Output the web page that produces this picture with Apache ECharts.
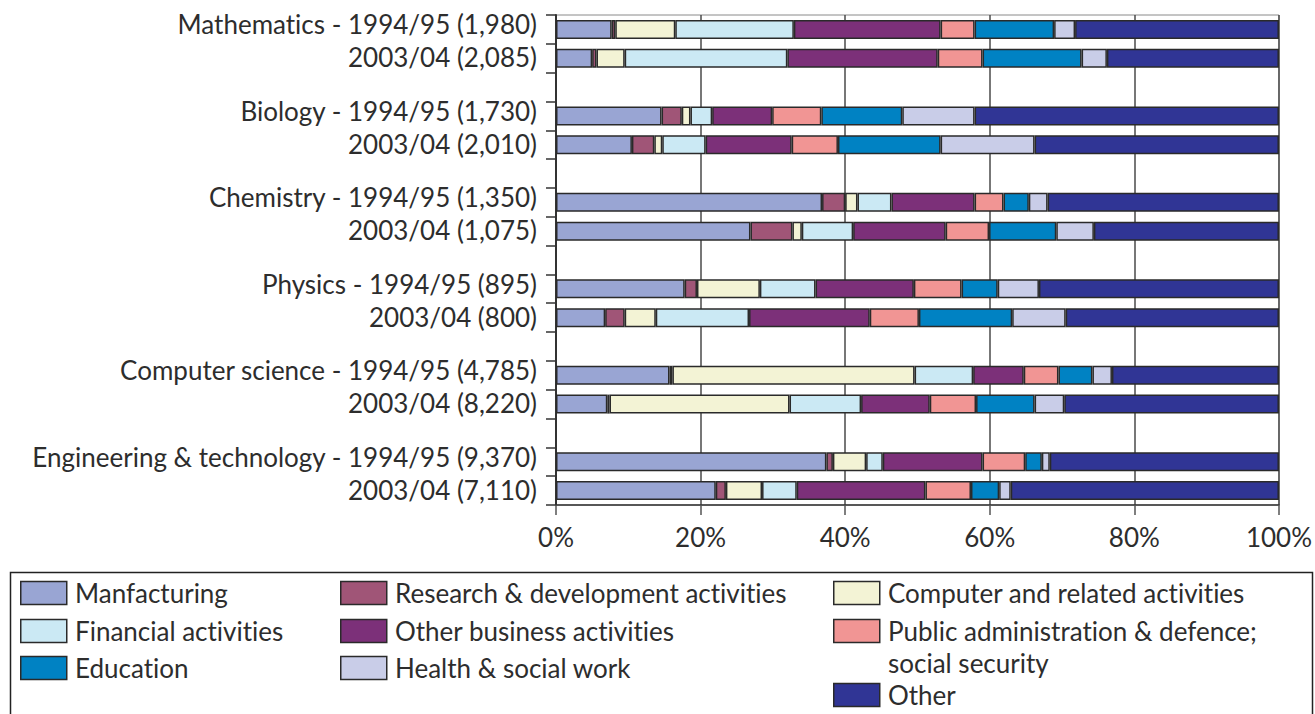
<!DOCTYPE html>
<html>
<head>
<meta charset="utf-8">
<script src="https://cdn.jsdelivr.net/npm/echarts@6/dist/echarts.min.js"></script>
<style>
  html, body { margin: 0; padding: 0; background: #fff; }
  #chart { width: 1315px; height: 714px; }
  /* Lato joins "ti" by default, the original does not */
  #chart svg text { font-variant-ligatures: none !important; }
</style>
</head>
<body>
<div id="chart"></div>
<script>
// bars, top to bottom; '' marks the blank row between subjects
var barLabels = [
  'Mathematics - 1994/95 (1,980)', '2003/04 (2,085)', '',
  'Biology - 1994/95 (1,730)', '2003/04 (2,010)', '',
  'Chemistry - 1994/95 (1,350)', '2003/04 (1,075)', '',
  'Physics - 1994/95 (895)', '2003/04 (800)', '',
  'Computer science - 1994/95 (4,785)', '2003/04 (8,220)', '',
  'Engineering & technology - 1994/95 (9,370)', '2003/04 (7,110)'
];

// share of graduates (%) per sector, one value per bar (12 bars)
var manufacturing   = [7.7, 5.0, 14.6, 10.5, 36.8, 26.9, 17.8, 6.8, 15.7, 7.1, 37.4, 22.1];
var researchDev     = [0.5, 0.6, 2.8, 3.1, 3.2, 5.8, 1.7, 2.7, 0.4, 0.3, 0.9, 1.4];
var computerRelated = [8.3, 3.9, 1.2, 1.1, 1.7, 1.3, 8.7, 4.3, 33.5, 24.9, 4.6, 5.0];
var financial       = [16.4, 22.5, 3.0, 6.0, 4.7, 7.1, 7.7, 12.9, 8.1, 9.9, 2.3, 4.8];
var otherBusiness   = [20.3, 20.8, 8.3, 11.9, 11.5, 12.8, 13.6, 16.7, 7.0, 9.5, 13.8, 17.8];
var publicAdmin     = [4.7, 6.2, 6.8, 6.4, 4.0, 6.0, 6.6, 6.8, 4.8, 6.4, 5.9, 6.3];
var education       = [11.0, 13.7, 11.2, 14.2, 3.5, 9.3, 5.0, 12.9, 4.7, 8.1, 2.3, 3.9];
var health          = [2.9, 3.5, 10.0, 13.0, 2.6, 5.2, 5.7, 7.4, 2.7, 4.1, 1.1, 1.6];
var other           = [28.2, 23.8, 42.1, 33.8, 32.0, 25.6, 33.2, 29.5, 23.1, 29.7, 31.7, 37.1];

var xTicks = [0, 20, 40, 60, 80, 100];

var sectors = [
  { name: 'Manfacturing', values: manufacturing, color: '#99a5d3' },
  { name: 'Research & development activities', values: researchDev, color: '#a05577' },
  { name: 'Computer and related activities', values: computerRelated, color: '#f3f3d5' },
  { name: 'Financial activities', values: financial, color: '#cbe9f4' },
  { name: 'Other business activities', values: otherBusiness, color: '#7c3079' },
  { name: 'Public administration & defence; social security', values: publicAdmin, color: '#f19594' },
  { name: 'Education', values: education, color: '#0082c3' },
  { name: 'Health & social work', values: health, color: '#c9cde8' },
  { name: 'Other', values: other, color: '#303595' }
];

var FONT = 'Lato';
var TEXT = '#2d2d2d';
var FS = 26;

// put the values on the bar rows, '-' on the blank rows
function withGaps(values) {
  var out = [];
  var k = 0;
  barLabels.forEach(function (lab) {
    out.push(lab === '' ? '-' : values[k++]);
  });
  return out;
}

// blank rows get distinct names so the category axis keeps them apart
var yCats = barLabels.map(function (lab, i) {
  return lab === '' ? 'gap' + i : lab;
});

var series = sectors.map(function (s) {
  return {
    name: s.name,
    type: 'bar',
    stack: 'total',
    barWidth: 19,
    itemStyle: { color: s.color, borderColor: '#2a2a2a', borderWidth: 1.5 },
    emphasis: { disabled: true },
    data: withGaps(s.values)
  };
});

// legend placement: column x and icon centre y for each item
var legendPos = [
  { left: 20, y: 593 },   // Manfacturing
  { left: 340, y: 593 },  // R&D
  { left: 833, y: 593 },  // Computer
  { left: 20, y: 631 },   // Financial
  { left: 340, y: 631 },  // Other business
  { left: 833, y: 631 },  // Public admin (two lines)
  { left: 20, y: 668 },   // Education
  { left: 340, y: 668 },  // Health
  { left: 833, y: 695 }   // Other
];

var legends = sectors.map(function (s, i) {
  var twoLine = s.name.indexOf('defence;') >= 0;
  return {
    data: [s.name],
    left: legendPos[i].left,
    // a two-line name gets an empty first line so its first line sits on the icon
    top: twoLine ? legendPos[i].y - 48 : legendPos[i].y - 16,
    padding: 0,
    itemWidth: 46,
    itemHeight: 23,
    icon: 'rect',
    selectedMode: false,
    itemStyle: { borderColor: '#2a2a2a', borderWidth: 1.5 },
    formatter: function (name) {
      if (name.indexOf('defence; ') >= 0) {
        return '\n\u2009' + name.replace('defence; ', 'defence;\n\u2009');
      }
      return '\u2009' + name;
    },
    textStyle: {
      fontFamily: FONT,
      fontSize: FS,
      color: TEXT,
      lineHeight: 32
    }
  };
});

var chart = echarts.init(document.getElementById('chart'), null, { renderer: 'svg' });

var option = {
  animation: false,
  backgroundColor: '#fff',
  textStyle: { fontFamily: FONT },
  grid: {
    left: 556,
    right: 29,
    top: 15,
    bottom: 209,
    show: true,
    borderColor: '#8a8a8a',
    borderWidth: 1
  },
  legend: legends,
  xAxis: {
    type: 'value',
    min: xTicks[0],
    max: xTicks[xTicks.length - 1],
    interval: 20,
    axisLine: { show: true, lineStyle: { color: '#333', width: 1.5 } },
    axisTick: { show: true, length: 10, lineStyle: { color: '#555', width: 1.5 } },
    axisLabel: {
      formatter: '{value}%',
      fontFamily: FONT,
      fontSize: FS,
      color: TEXT,
      margin: 19
    },
    splitLine: { show: true, lineStyle: { color: '#4a4a4a', width: 1.5 } }
  },
  yAxis: {
    type: 'category',
    inverse: true,
    data: yCats,
    axisLine: { show: true, lineStyle: { color: '#333', width: 2 } },
    axisTick: { show: true, length: 10, interval: 0, lineStyle: { color: '#333', width: 1.5 } },
    axisLabel: {
      interval: 0,
      verticalAlign: 'bottom',
      // first label of a pair sits a little higher above its bar than the second
      formatter: function (value, index) {
        if (value.indexOf('gap') === 0) return '';
        return (index % 3 === 0 ? '{up|' : '{low|') + value + '}';
      },
      rich: {
        up: { fontFamily: FONT, fontSize: FS, color: TEXT, lineHeight: 10 },
        low: { fontFamily: FONT, fontSize: FS, color: TEXT, lineHeight: 2 }
      },
      fontFamily: FONT,
      fontSize: FS,
      color: TEXT,
      margin: 19
    }
  },
  graphic: [{
    type: 'rect',
    left: 8,
    top: 570,
    shape: { width: 1302, height: 170 },
    style: { fill: 'none', stroke: '#222', lineWidth: 1.5 },
    silent: true
  }],
  series: series
};

chart.setOption(option);
</script>
</body>
</html>
